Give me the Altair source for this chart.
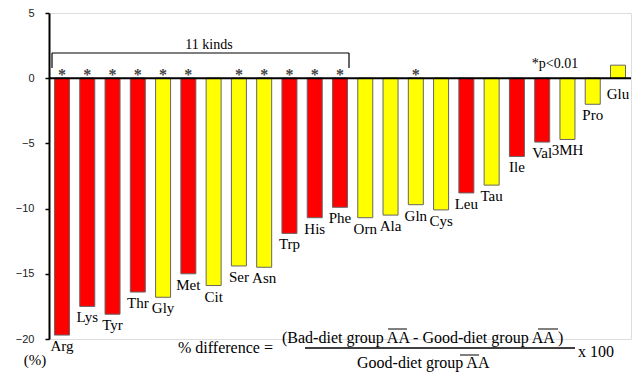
import altair as alt
import pandas as pd

amino = ["Arg", "Lys", "Tyr", "Thr", "Gly", "Met", "Cit", "Ser", "Asn", "Trp", "His", "Phe",
         "Orn", "Ala", "Gln", "Cys", "Leu", "Tau", "Ile", "Val", "3MH", "Pro", "Glu"]
pct_diff = [-19.7, -17.5, -18.1, -16.4, -16.8, -15.0, -15.9, -14.4, -14.5, -11.9, -10.7, -9.9,
            -10.7, -10.5, -9.7, -10.1, -8.8, -8.2, -6.0, -4.9, -4.7, -2.0, 1.0]
group = ["red", "red", "red", "red", "yellow", "red", "yellow", "yellow", "yellow", "red", "red", "red",
         "yellow", "yellow", "yellow", "yellow", "red", "yellow", "red", "red", "yellow", "yellow", "yellow"]
significant = [1, 1, 1, 1, 1, 1, 0, 1, 1, 1, 1, 1, 0, 0, 1, 0, 0, 0, 0, 0, 0, 0, 0]
y_ticks = [5, 0, -5, -10, -15, -20]

df = pd.DataFrame({"aa": amino, "v": pct_diff, "grp": group, "sig": significant})
df["zero"] = 0.0

W, H = 582, 326
SERIF = "Liberation Serif"

xenc = alt.X("aa:N", sort=amino, axis=None,
             scale=alt.Scale(paddingInner=0.406, paddingOuter=0.217))
yscale = alt.Scale(domain=[-20, 5], nice=False, zero=False)

base = alt.Chart(df)

bars = base.mark_bar(stroke="#666666", strokeWidth=1).encode(
    x=xenc,
    y=alt.Y("v:Q", scale=yscale,
            axis=alt.Axis(values=y_ticks, title=None, grid=False, domainColor="black",
                          domainWidth=2, tickColor="black", tickWidth=1.5, tickSize=4,
                          labelFont="Liberation Sans", labelFontSize=11, labelColor="#222",
                          labelPadding=11)),
    y2=alt.Y2("zero:Q"),
    color=alt.Color("grp:N", scale=alt.Scale(domain=["red", "yellow"], range=["#FF0000", "#FFFF00"]),
                    legend=None),
)

zero_line = alt.Chart(pd.DataFrame({"z": [0]})).mark_rule(color="black", strokeWidth=2).encode(
    y=alt.Y("z:Q", scale=yscale), x=alt.value(0), x2=alt.value(W))

neg_labels = base.transform_filter("datum.v < 0").mark_text(
    font=SERIF, fontSize=15, baseline="middle", dy=11, color="black").encode(
    x=xenc, y=alt.Y("v:Q", scale=yscale), text="aa:N")
pos_labels = base.transform_filter("datum.v >= 0").mark_text(
    font=SERIF, fontSize=15, baseline="middle", dy=16, color="black").encode(
    x=xenc, y=alt.Y("zero:Q", scale=yscale), text="aa:N")

stars = base.transform_filter("datum.sig == 1").mark_text(
    font=SERIF, fontSize=16, fontWeight="bold", baseline="alphabetic", dy=2, color="#444").encode(
    x=xenc, y=alt.Y("zero:Q", scale=yscale), text=alt.value("*"))

one = pd.DataFrame({"a": [0]})


def txt(s, x, y, size=15, align="center"):
    return alt.Chart(one).mark_text(font=SERIF, fontSize=size, align=align, baseline="middle",
                                    color="black").encode(
        x=alt.value(x), y=alt.value(y), text=alt.value(s))


def rule(x1, x2, y1, y2, w=1.2):
    return alt.Chart(one).mark_rule(color="black", strokeWidth=w).encode(
        x=alt.value(x1), x2=alt.value(x2), y=alt.value(y1), y2=alt.value(y2))


annotations = [
    rule(3, 300, 40, 40), rule(3, 3, 40, 55), rule(300, 300, 40, 55),
    txt("11 kinds", 160, 32, 14),
    txt("*p<0.01", 506, 51, 14),
    txt("(%)", -14, 347, 15),
    txt("% difference =", 129, 335, 16, "left"),
    txt("(Bad-diet group AA  - Good-diet group AA )", 233, 325, 16, "left"),
    rule(256, 526, 335, 335, 1.3),
    txt("Good-diet group AA", 308, 350, 16, "left"),
    txt("x 100", 529, 339, 16, "left"),
    rule(339, 358, 316, 316, 1), rule(489, 509, 316, 316, 1), rule(411, 430, 342, 342, 1),
]

chart = alt.layer(bars, zero_line, neg_labels, pos_labels, stars, *annotations).properties(
    width=W, height=H, autosize="none",
    padding={"left": 41, "top": 5, "right": 2, "bottom": 36},
).configure_view(stroke=None).configure(background="white")

chart.save("out.html", embed_options={"renderer": "svg", "actions": False})
